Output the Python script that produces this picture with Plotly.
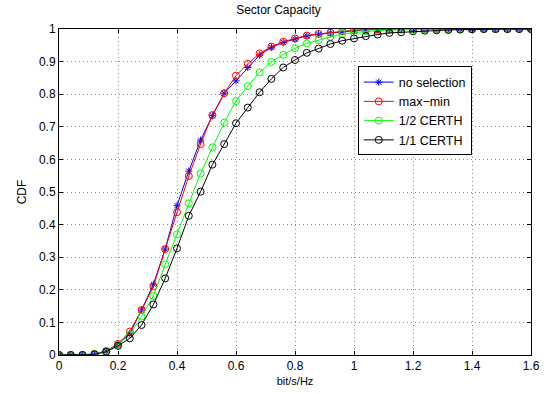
import plotly.graph_objects as go

x_vals = [round(i * 0.04, 2) for i in range(41)]

no_selection = [0, 0, 0, 0.003, 0.012, 0.033, 0.066, 0.138, 0.217, 0.325, 0.458, 0.564, 0.659, 0.734, 0.803,
                0.841, 0.882, 0.920, 0.944, 0.959, 0.969, 0.979, 0.984, 0.988, 0.992, 0.996, 0.998, 0.999, 1, 1,
                1, 1, 1, 1, 1, 1, 1, 1, 1, 1, 1]
max_min = [0, 0, 0, 0.003, 0.012, 0.034, 0.072, 0.138, 0.210, 0.325, 0.438, 0.549, 0.647, 0.736, 0.803,
           0.857, 0.893, 0.925, 0.946, 0.961, 0.971, 0.980, 0.985, 0.989, 0.993, 0.996, 0.998, 0.999, 1, 1,
           1, 1, 1, 1, 1, 1, 1, 1, 1, 1, 1]
half_certh = [0, 0, 0, 0.003, 0.011, 0.031, 0.063, 0.118, 0.181, 0.278, 0.370, 0.465, 0.557, 0.637, 0.713,
              0.779, 0.825, 0.867, 0.899, 0.921, 0.941, 0.956, 0.966, 0.976, 0.985, 0.989, 0.993, 0.995, 0.997, 0.998,
              0.999, 1, 1, 1, 1, 1, 1, 1, 1, 1, 1]
full_certh = [0, 0, 0, 0.002, 0.010, 0.028, 0.051, 0.092, 0.155, 0.235, 0.327, 0.427, 0.501, 0.584, 0.647,
              0.711, 0.759, 0.806, 0.847, 0.882, 0.905, 0.927, 0.940, 0.954, 0.964, 0.971, 0.978, 0.983, 0.988, 0.990,
              0.993, 0.995, 0.996, 0.997, 0.998, 0.999, 1, 1, 1, 1, 1]

series = [
    ("no selection", no_selection, "#0000ff", "asterisk-open", 6),
    ("max\u2212min", max_min, "#ff0000", "circle-open", 7),
    ("1/2 CERTH", half_certh, "#00ff00", "circle-open", 7),
    ("1/1 CERTH", full_certh, "#000000", "circle-open", 7),
]

x_ticks = [0, 0.2, 0.4, 0.6, 0.8, 1, 1.2, 1.4, 1.6]
x_tick_text = ["0", "0.2", "0.4", "0.6", "0.8", "1", "1.2", "1.4", "1.6"]
y_ticks = [0, 0.1, 0.2, 0.3, 0.4, 0.5, 0.6, 0.7, 0.8, 0.9, 1]
y_tick_text = ["0", "0.1", "0.2", "0.3", "0.4", "0.5", "0.6", "0.7", "0.8", "0.9", "1"]

fig = go.Figure()
for name, vals, color, sym, sz in series:
    fig.add_trace(go.Scatter(
        x=x_vals, y=vals, name=name, mode="lines+markers",
        line=dict(color=color, width=1),
        marker=dict(symbol=sym, size=sz, color=color, line=dict(color=color, width=1)),
    ))

font = "Liberation Sans, Arial, sans-serif"
axis_common = dict(
    showline=True, linecolor="black", linewidth=1, mirror="ticks",
    ticks="inside", ticklen=4, tickcolor="black",
    showgrid=True, gridcolor="#8a8a8a", griddash="1px,3px", gridwidth=1,
    zeroline=False, tickfont=dict(size=12, color="black", family=font),
)
fig.update_xaxes(range=[0, 1.6], tickvals=x_ticks, ticktext=x_tick_text,
                 title=dict(text="bit/s/Hz", font=dict(size=11, color="black", family=font), standoff=4),
                 **axis_common)
fig.update_yaxes(range=[0, 1], tickvals=y_ticks, ticktext=y_tick_text,
                 title=dict(text="CDF", font=dict(size=12, color="black", family=font), standoff=9),
                 **axis_common)

fig.update_layout(
    width=557, height=394,
    margin=dict(l=59, r=26, t=29, b=39, autoexpand=False),
    paper_bgcolor="white", plot_bgcolor="white",
    font=dict(family=font, size=12, color="black"),
    title=dict(text="Sector Capacity", x=0.5, xanchor="center", y=1 - 10 / 394, yanchor="middle",
               font=dict(size=12, color="black", family=font)),
    showlegend=True,
    legend=dict(x=0.633, y=0.885, xanchor="left", yanchor="top",
                bgcolor="white", bordercolor="black", borderwidth=1,
                font=dict(size=12.5, color="black", family=font),
                tracegroupgap=0, itemwidth=30),
)

fig.write_html("out.html", config={"displayModeBar": False},
               post_script="document.body.style.margin='0';")
